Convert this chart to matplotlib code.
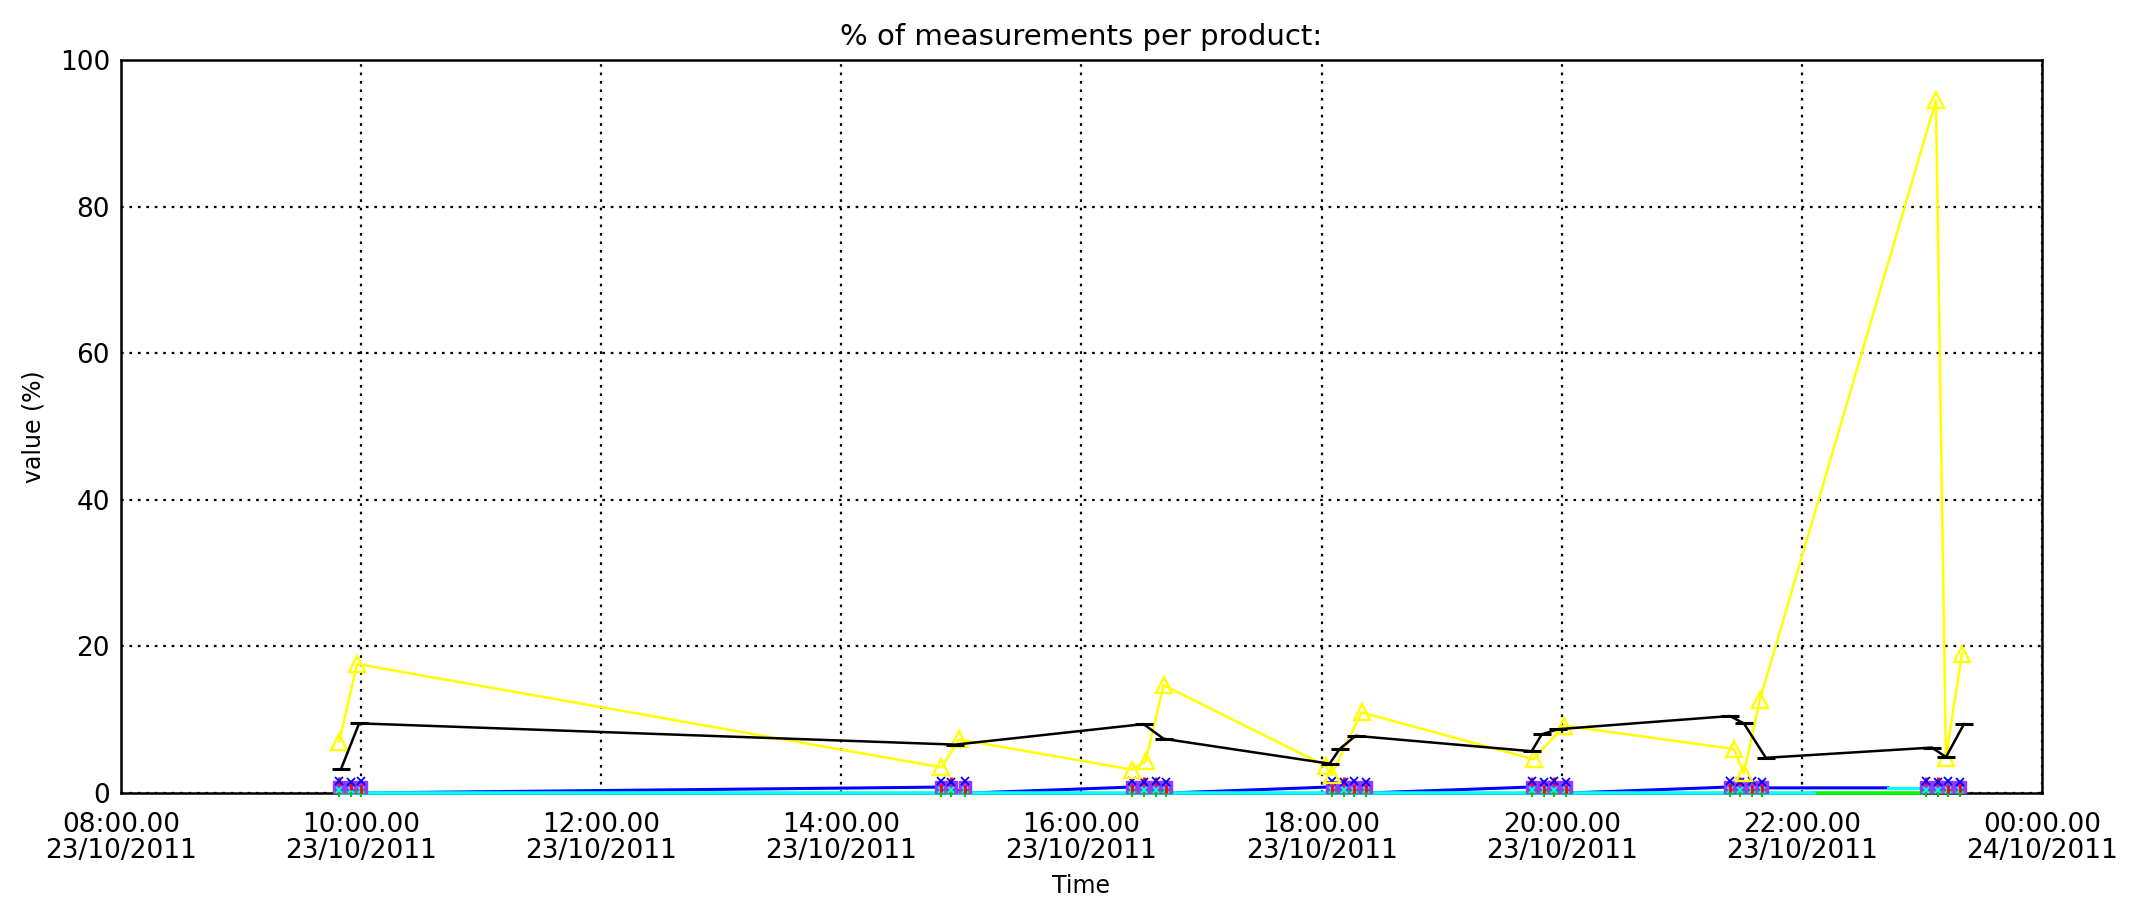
"""Percentage of measurements per product over one day (23/10/2011)."""

import matplotlib

matplotlib.use("Agg")
import matplotlib.dates as mdates  # noqa: E402
import matplotlib.pyplot as plt  # noqa: E402
import pandas as pd  # noqa: E402

DAY = "2011-10-23 "
X_START = "2011-10-23 08:00"
X_END = "2011-10-24 00:00"

TITLE = "% of measurements per product:"
X_LABEL = "Time"
Y_LABEL = "value (%)"
Y_TICKS = [0, 20, 40, 60, 80, 100]

# product series read per sample time
yellow_times = ["09:49", "09:58", "14:50", "14:59", "16:25", "16:32", "16:41",
                "18:02", "18:05", "18:20", "19:46", "20:01", "21:26", "21:31",
                "21:39", "23:07", "23:12", "23:20"]
yellow_values = [7.0, 17.6, 3.5, 7.3, 3.2, 4.3, 14.7,
                 3.7, 2.5, 11.0, 4.6, 9.2, 6.0, 2.7,
                 12.7, 94.5, 4.8, 19.0]

black_times = ["09:50", "09:59", "14:57", "16:31", "16:41", "18:04", "18:09",
               "18:17", "19:45", "19:50", "19:58", "21:24", "21:31", "21:42",
               "23:05", "23:12", "23:21"]
black_values = [3.3, 9.5, 6.6, 9.4, 7.4, 4.0, 6.0,
                7.8, 5.7, 8.0, 8.7, 10.5, 9.5, 4.8,
                6.2, 4.9, 9.4]

blue_times = ["09:59", "14:48", "15:05", "16:24", "16:44", "18:02", "18:23",
              "19:43", "20:04", "21:22", "21:43", "22:43"]
blue_values = [0.0, 0.8, 0.0, 0.8, 0.0, 0.8, 0.0,
               0.8, 0.0, 0.8, 0.7, 0.7]

cyan_times = ["09:50", "22:06"]
cyan_values = [0.0, 0.0]
cyan_late_times = ["22:43", "23:00"]
cyan_late_values = [0.7, 0.7]

green_times = ["22:06", "23:00"]
green_values = [0.0, 0.0]

# small products, only sampled during the measurement bursts
burst_times = ["09:49", "09:55", "10:00",
               "14:50", "14:55", "15:02",
               "16:25", "16:31", "16:37", "16:42",
               "18:05", "18:11", "18:16", "18:22",
               "19:45", "19:51", "19:56", "20:02",
               "21:24", "21:29", "21:35", "21:40",
               "23:02", "23:08", "23:13", "23:19"]
violet_values = [0.8] * len(burst_times)
blue_burst_values = [1.6, 1.5, 1.6, 1.6, 1.5, 1.6, 1.6, 1.5, 1.6, 1.5,
                     1.6, 1.5, 1.6, 1.5, 1.6, 1.5, 1.6, 1.5, 1.6, 1.5,
                     1.6, 1.5, 1.6, 1.5, 1.6, 1.5]
red_values = [1.7, 0.9, 0.6, 0.7, 1.7, 0.6, 0.7, 1.6, 1.7, 0.6,
              0.7, 1.6, 0.6, 0.7, 1.7, 0.6, 1.6, 0.6, 0.7, 1.6,
              0.6, 0.7, 1.6, 1.7, 0.6, 0.7]
green_burst_values = [0.2] * len(burst_times)
cyan_burst_values = [0.4] * len(burst_times)


def stamps(times: list[str]) -> pd.DatetimeIndex:
    return pd.to_datetime([DAY + t for t in times])


def main() -> None:
    plt.rcParams["font.family"] = "DejaVu Sans"
    fig = plt.figure(figsize=(21.32, 9.02), dpi=100)
    ax = fig.add_axes([121 / 2132, 1 - 793 / 902, 1921 / 2132, 733 / 902])

    bursts = stamps(burst_times)
    # zero-level lines sit on top of the bottom spine, so leave them unclipped
    ax.plot(stamps(green_times), green_values, color="#00FF00", lw=2.6,
            zorder=3, clip_on=False)
    ax.plot(stamps(cyan_times), cyan_values, color="#00FFFF", lw=2.6,
            zorder=3, clip_on=False)
    ax.plot(stamps(cyan_late_times), cyan_late_values, color="#00FFFF", lw=2.2, zorder=3)
    ax.plot(stamps(blue_times), blue_values, color="#0000FF", lw=2.2, zorder=2)

    ax.plot(bursts, violet_values, ls="none", marker="s", ms=8.5,
            mfc="#9933FF", mec="#9933FF", zorder=4, clip_on=False)
    ax.plot(bursts, green_burst_values, ls="none", marker="+", ms=7,
            mew=1.5, color="#00CC00", zorder=5, clip_on=False)
    ax.plot(bursts, cyan_burst_values, ls="none", marker="x", ms=5,
            mew=1.2, color="#00FFFF", zorder=5)
    ax.plot(bursts, red_values, ls="none", marker="|", ms=6,
            mew=2, color="#FF0000", zorder=5)
    ax.plot(bursts, blue_burst_values, ls="none", marker="x", ms=6,
            mew=1.3, color="#0000FF", zorder=5)

    ax.plot(stamps(yellow_times), yellow_values, color="#FFFF00", lw=1.8,
            marker="^", ms=12, mfc="none", mec="#FFFF00", mew=1.7, zorder=6)
    ax.plot(stamps(black_times), black_values, color="black", lw=1.8,
            marker="_", ms=13, mew=2.2, zorder=7)

    ax.set_xlim(pd.Timestamp(X_START), pd.Timestamp(X_END))
    ax.set_ylim(Y_TICKS[0], Y_TICKS[-1])
    ax.set_yticks(Y_TICKS)
    ax.xaxis.set_major_locator(mdates.HourLocator(byhour=range(0, 24, 2)))
    ax.xaxis.set_major_formatter(mdates.DateFormatter("%H:%M.%S\n%d/%m/%Y"))
    ax.tick_params(length=0, labelsize=19)
    ax.tick_params(axis="x", pad=14)
    ax.tick_params(axis="y", pad=8)
    for label in ax.get_xticklabels():
        label.set_linespacing(1.0)
    ax.grid(True, color="black", lw=1.6, ls=(0, (1.2, 2.6)))
    for spine in ax.spines.values():
        spine.set_linewidth(1.8)

    ax.set_title(TITLE, fontsize=21, pad=11)
    ax.set_xlabel(X_LABEL, fontsize=17, labelpad=7)
    ax.set_ylabel(Y_LABEL, fontsize=17, labelpad=10)

    fig.savefig("out.png", dpi=100)
    plt.close(fig)


if __name__ == "__main__":
    main()
